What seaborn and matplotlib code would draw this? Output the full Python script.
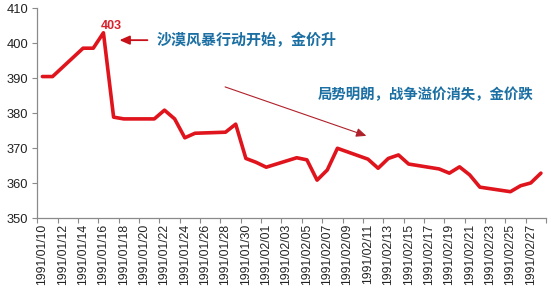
import matplotlib
matplotlib.use("Agg")
import matplotlib.pyplot as plt
import seaborn as sns
import pandas as pd
import numpy as np

# ---- data ----
dates = ["1991-01-10", "1991-01-11", "1991-01-14", "1991-01-15", "1991-01-16",
         "1991-01-17", "1991-01-18", "1991-01-21", "1991-01-22", "1991-01-23",
         "1991-01-24", "1991-01-25", "1991-01-28", "1991-01-29", "1991-01-30",
         "1991-01-31", "1991-02-01", "1991-02-04", "1991-02-05", "1991-02-06",
         "1991-02-07", "1991-02-08", "1991-02-11", "1991-02-12", "1991-02-13",
         "1991-02-14", "1991-02-15", "1991-02-18", "1991-02-19", "1991-02-20",
         "1991-02-21", "1991-02-22", "1991-02-25", "1991-02-26", "1991-02-27",
         "1991-02-28"]
prices = [390.5, 390.5, 398.6, 398.6, 403.0, 378.9, 378.4, 378.4, 380.9, 378.4,
          373.0, 374.3, 374.6, 376.9, 367.1, 366.0, 364.6, 367.3, 366.7, 360.9,
          363.8, 370.0, 366.9, 364.3, 367.1, 368.1, 365.5, 364.1, 362.9, 364.7,
          362.4, 358.9, 357.6, 359.3, 360.1, 362.9]
axis_start = "1991-01-10"
axis_end = "1991-02-28"
tick_dates = pd.date_range(axis_start, "1991-02-27", freq="2D")
tick_labels = [d.strftime("%Y/%m/%d") for d in tick_dates]
y_ticks = [350, 360, 370, 380, 390, 400, 410]
peak_label = "403"
note_up = "沙漠风暴行动开始，金价升"
note_down = "局势明朗，战争溢价消失，金价跌"

# ---- prepare ----
start = pd.Timestamp(axis_start)
df = pd.DataFrame({"date": pd.to_datetime(dates), "price": prices})
df["day"] = (df["date"] - start).dt.days
n_days = (pd.Timestamp(axis_end) - start).days + 1
tick_pos = [(d - start).days for d in tick_dates]

sns.set_theme(style="white")
plt.rcParams["font.family"] = ["Liberation Sans", "DejaVu Sans"]

fig = plt.figure(figsize=(5.58, 2.98), dpi=100)
ax = fig.add_axes([37.3 / 558, 1 - 218.3 / 298, (546 - 37.3) / 558, (218.3 - 8.3) / 298])

sns.lineplot(data=df, x="day", y="price", ax=ax, color="#E0141C", linewidth=2.6)

ax.set_xlim(-0.5, n_days - 0.5)
ax.set_ylim(350, 410)
ax.set_yticks(y_ticks)
ax.set_yticklabels([str(v) for v in y_ticks], fontsize=9.3, color="#222222")
ax.set_xticks(tick_pos)
ax.set_xticklabels(tick_labels, rotation=90, fontsize=8.8, color="#222222")
ax.set_xticks(np.arange(-0.5, n_days, 2), minor=True)
ax.tick_params(axis="x", which="major", length=0, pad=4)
ax.tick_params(axis="x", which="minor", length=3.5, width=0.8, color="#8a8a8a", direction="out", bottom=True)
ax.tick_params(axis="y", which="major", length=3.5, width=0.8, color="#8a8a8a", direction="out", left=True, pad=3)
ax.set_xlabel("")
ax.set_ylabel("")
for s in ["top", "right"]:
    ax.spines[s].set_visible(False)
for s in ["left", "bottom"]:
    ax.spines[s].set_color("#8a8a8a")
    ax.spines[s].set_linewidth(0.9)

cjk = ["Noto Sans CJK SC", "DejaVu Sans"]
peak_i = int(np.argmax(prices))
ax.text(df["day"][peak_i] + 0.75, prices[peak_i] + 1.9, peak_label, color="#D8202A",
        fontsize=9, fontweight="bold", ha="center", va="center")
ax.annotate("", xy=(7.3, 400.9), xytext=(10.6, 400.9),
            arrowprops=dict(arrowstyle="-|>,head_length=0.5,head_width=0.22",
                            color="#C81018", lw=1.3))
ax.text(11.25, 401.0, note_up, color="#1B6FA3", fontsize=10.8, fontweight="bold",
        family=cjk, ha="left", va="center")
ax.text(27.1, 385.3, note_down, color="#1B6FA3", fontsize=10.4, fontweight="bold",
        family=cjk, ha="left", va="center")
ax.annotate("", xy=(32.1, 373.3), xytext=(17.7, 387.8),
            arrowprops=dict(arrowstyle="-|>,head_length=0.5,head_width=0.22",
                            color="#B0202A", lw=0.8))

fig.savefig("out.png", dpi=100, facecolor="white")
